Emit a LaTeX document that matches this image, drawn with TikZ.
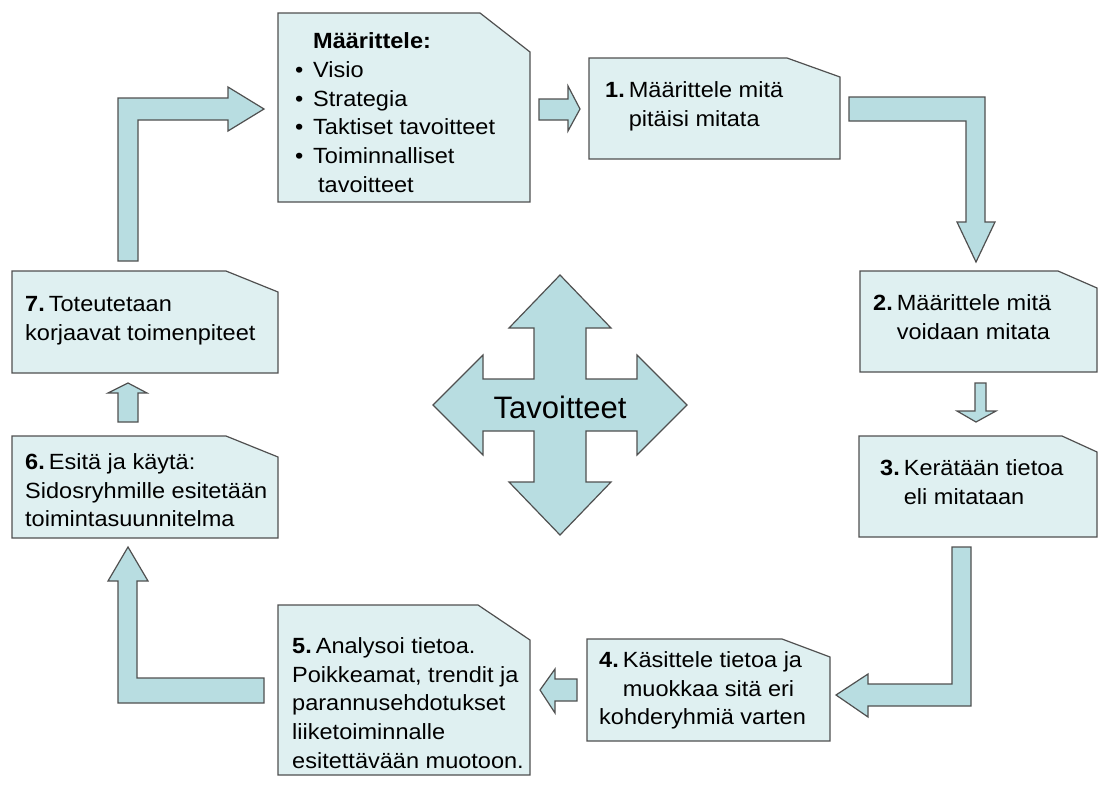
\documentclass[tikz,border=0pt]{standalone}
\usepackage{fontspec}
\setmainfont{Liberation Sans}[FakeStretch=1.07]
\newfontfamily\bigfont{Liberation Sans}
\definecolor{boxc}{HTML}{DFF0F1}
\definecolor{arrc}{HTML}{B8DDE1}
\definecolor{bordc}{HTML}{505050}
\tikzset{
  notebox/.style={draw=bordc, fill=boxc, line width=1.2pt, line join=miter},
  blockarrow/.style={draw=bordc, fill=arrc, line width=1.2pt, line join=miter},
  txt/.style={anchor=north west, inner sep=0pt, align=left, font=\fontsize{22}{28.8}\selectfont},
}
\newcommand{\sstrut}{\rule{0pt}{22pt}}
\newcommand{\stepnum}[1]{\textbf{#1.}\hspace{4pt}}
\newcommand{\stepgap}[1]{\phantom{\textbf{#1.}}\hspace{4pt}}
\begin{document}
\begin{tikzpicture}[x=1pt,y=-1pt]
\useasboundingbox[fill=white] (0,0) rectangle (1102,790);

% ---- boxes (snipped top-right corner)
\draw[notebox] (278,13) -- (480,13) -- (530,52) -- (530,202) -- (278,202) -- cycle;
\draw[notebox] (589,58) -- (787,58) -- (840,77) -- (840,159) -- (589,159) -- cycle;
\draw[notebox] (860,271) -- (1058,271) -- (1097,288) -- (1097,372) -- (860,372) -- cycle;
\draw[notebox] (859,436) -- (1062,436) -- (1097,452) -- (1097,537) -- (859,537) -- cycle;
\draw[notebox] (587,639) -- (782,639) -- (830,657) -- (830,741) -- (587,741) -- cycle;
\draw[notebox] (278,605) -- (478,605) -- (530,640) -- (530,775) -- (278,775) -- cycle;
\draw[notebox] (12,436) -- (226,436) -- (278,457) -- (278,538) -- (12,538) -- cycle;
\draw[notebox] (12,271) -- (226,271) -- (278,292) -- (278,373) -- (12,373) -- cycle;

% ---- texts
\node[txt] (t0) at (295,26) {\sstrut\makebox[18pt][l]{}\textbf{Määrittele:}\\[0.2pt]
  \makebox[18pt][l]{•}Visio\\
  \makebox[18pt][l]{•}Strategia\\
  \makebox[18pt][l]{•}Taktiset tavoitteet\\
  \makebox[18pt][l]{•}Toiminnalliset\\
  \makebox[23pt][l]{}tavoitteet};
\node[txt] (t1) at (605,75) {\sstrut\stepnum{1}Määrittele mitä\\\stepgap{1}pitäisi mitata};
\node[txt] (t2) at (873,288) {\sstrut\stepnum{2}Määrittele mitä\\\stepgap{2}voidaan mitata};
\node[txt] (t3) at (880,453) {\sstrut\stepnum{3}Kerätään tietoa\\\stepgap{3}eli mitataan};
\node[txt] (t4) at (599,645) {\sstrut\stepnum{4}Käsittele tietoa ja\\\stepgap{4}muokkaa sitä eri\\kohderyhmiä varten};
\node[txt] (t5) at (292,631) {\sstrut\stepnum{5}Analysoi tietoa.\\Poikkeamat, trendit ja\\parannusehdotukset\\liiketoiminnalle\\esitettävään muotoon.};
\node[txt] (t6) at (25,447) {\sstrut\stepnum{6}Esitä ja käytä:\\Sidosryhmille esitetään\\toimintasuunnitelma};
\node[txt] (t7) at (25,289) {\sstrut\stepnum{7}Toteutetaan\\korjaavat toimenpiteet};

% ---- block arrows
% 0 -> 1
\draw[blockarrow] (539,99) -- (568,99) -- (568,86) -- (580,109) -- (568,131) -- (568,120) -- (539,120) -- cycle;
% 1 -> 2 (bent)
\draw[blockarrow] (849,97) -- (985,97) -- (985,222) -- (995,222) -- (976,262) -- (957,222) -- (966,222) -- (966,121) -- (849,121) -- cycle;
% 2 -> 3
\draw[blockarrow] (975,383) -- (986,383) -- (986,411) -- (996,411) -- (976,422) -- (957,411) -- (975,411) -- cycle;
% 3 -> 4 (bent)
\draw[blockarrow] (952,547) -- (971,547) -- (971,706) -- (868,706) -- (868,717) -- (836,695) -- (868,674) -- (868,684) -- (952,684) -- cycle;
% 4 -> 5
\draw[blockarrow] (577,679) -- (577,701) -- (555,701) -- (555,713) -- (540,690) -- (555,669) -- (555,679) -- cycle;
% 5 -> 6 (bent)
\draw[blockarrow] (264,678) -- (264,703) -- (118,703) -- (118,581) -- (108,581) -- (128,547) -- (148,581) -- (137,581) -- (137,678) -- cycle;
% 6 -> 7
\draw[blockarrow] (118,422) -- (118,393) -- (108,393) -- (128,383) -- (147,393) -- (138,393) -- (138,422) -- cycle;
% 7 -> 0 (bent)
\draw[blockarrow] (118,261) -- (118,98) -- (228,98) -- (228,87) -- (264,109) -- (228,131) -- (228,120) -- (138,120) -- (138,261) -- cycle;

% ---- central four-way arrow
\draw[blockarrow] (534,379) -- (534,328) -- (509,328) -- (560,275) -- (611,328) -- (586,328) -- (586,379)
  -- (637,379) -- (637,355) -- (687,405) -- (637,455) -- (637,431) -- (586,431)
  -- (586,482) -- (611,482) -- (560,535) -- (509,482) -- (534,482) -- (534,431)
  -- (483,431) -- (483,455) -- (433,405) -- (483,355) -- (483,379) -- cycle;
\node[inner sep=0pt, font=\bigfont\fontsize{31}{36}\selectfont] (tav) at (560,407) {Tavoitteet};
\end{tikzpicture}
\end{document}
